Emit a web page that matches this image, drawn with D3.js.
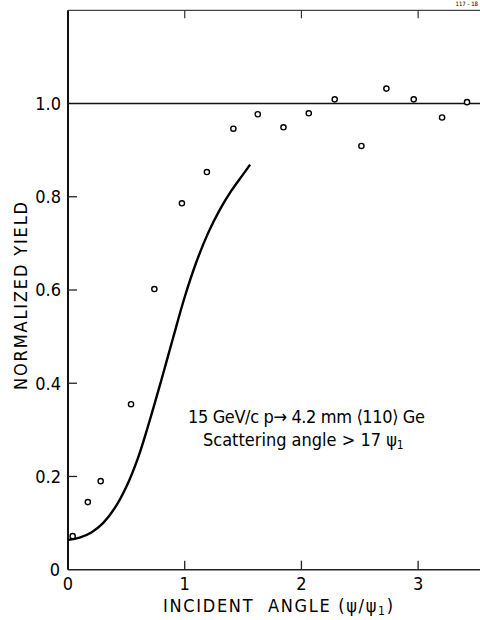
<!DOCTYPE html>
<html>
<head>
<meta charset="UTF-8">
<title>Normalized yield vs incident angle</title>
<style>
  body { margin: 0; background: #fff; }
  svg { display: block; }
  text { font-family: "Liberation Sans Narrow", "DejaVu Sans Condensed", "Liberation Sans", sans-serif; fill: #000; }
</style>
</head>
<body>
<script src="https://cdn.jsdelivr.net/npm/d3@7/dist/d3.min.js"></script>
<script>
// measured points (open circles)
var pointX = [0.04, 0.17, 0.28, 0.54, 0.74, 0.976, 1.19, 1.417, 1.626, 1.846, 2.063, 2.285, 2.514, 2.728, 2.962, 3.205, 3.419];
var pointY = [0.072, 0.145, 0.19, 0.355, 0.602, 0.786, 0.853, 0.946, 0.977, 0.949, 0.979, 1.009, 0.909, 1.032, 1.009, 0.970, 1.003];

// calculated curve (solid line)
var curveX = [0, 0.1, 0.2, 0.3, 0.4, 0.5, 0.6, 0.7, 0.8, 0.9, 1.0, 1.1, 1.2, 1.3, 1.4, 1.5, 1.56];
var curveY = [0.064, 0.069, 0.08, 0.1, 0.132, 0.178, 0.24, 0.32, 0.407, 0.497, 0.585, 0.66, 0.722, 0.772, 0.813, 0.848, 0.869];

var xTicks = [0, 1, 2, 3];
var yTicks = [0, 0.2, 0.4, 0.6, 0.8, 1.0];
var yTickLabels = ['0', '0.2', '0.4', '0.6', '0.8', '1.0'];

var W = 480, H = 620;
var x = d3.scaleLinear().domain([0, 3.53]).range([68, 480]);
var y = d3.scaleLinear().domain([0, 1.2]).range([569.7, 10.3]);

var svg = d3.select('body').append('svg')
    .attr('width', W)
    .attr('height', H);

// frame: left, bottom, top
svg.append('line')
    .attr('x1', x(0)).attr('x2', x(0))
    .attr('y1', y(1.2)).attr('y2', y(0))
    .attr('stroke', '#111').attr('stroke-width', 2);
svg.append('line')
    .attr('x1', x(0)).attr('x2', W)
    .attr('y1', y(0)).attr('y2', y(0))
    .attr('stroke', '#222').attr('stroke-width', 1.5);
svg.append('line')
    .attr('x1', x(0)).attr('x2', W)
    .attr('y1', y(1.2)).attr('y2', y(1.2))
    .attr('stroke', '#444').attr('stroke-width', 1.3);

// ticks pointing inward
var xIn = xTicks.filter(function (d) { return d > 0; });
svg.selectAll('.xtick-b').data(xIn).enter().append('line')
    .attr('x1', function (d) { return x(d); }).attr('x2', function (d) { return x(d); })
    .attr('y1', y(0)).attr('y2', y(0) - 9)
    .attr('stroke', '#222').attr('stroke-width', 1.3);
svg.selectAll('.xtick-t').data(xIn).enter().append('line')
    .attr('x1', function (d) { return x(d); }).attr('x2', function (d) { return x(d); })
    .attr('y1', y(1.2)).attr('y2', y(1.2) + 8)
    .attr('stroke', '#333').attr('stroke-width', 1.2);
svg.selectAll('.ytick').data(yTicks.slice(1, 5)).enter().append('line')
    .attr('x1', x(0)).attr('x2', x(0) + 9)
    .attr('y1', function (d) { return y(d); }).attr('y2', function (d) { return y(d); })
    .attr('stroke', '#222').attr('stroke-width', 1.3);

// unity line
svg.append('line')
    .attr('x1', x(0)).attr('x2', W)
    .attr('y1', y(1.0)).attr('y2', y(1.0))
    .attr('stroke', '#111').attr('stroke-width', 1.5);

// tick labels
svg.selectAll('.ylab').data(yTicks).enter().append('text')
    .attr('x', function (d) { return d === 0 ? 60 : 61; })
    .attr('y', function (d) { return y(d); })
    .attr('dy', '0.36em')
    .attr('text-anchor', 'end')
    .style('font-size', '18px')
    .text(function (d, i) { return yTickLabels[i]; });

svg.selectAll('.xlab').data(xTicks).enter().append('text')
    .attr('x', function (d) { return x(d); })
    .attr('y', 590)
    .attr('text-anchor', 'middle')
    .style('font-size', '18px')
    .text(function (d) { return d; });

// axis titles
var xt = svg.append('text')
    .attr('x', 163)
    .attr('y', 612)
    .attr('textLength', 230)
    .attr('lengthAdjust', 'spacing')
    .style('font-size', '18px');
xt.append('tspan').text('INCIDENT\u00a0\u00a0ANGLE (\u03c8/\u03c8');
xt.append('tspan').attr('baseline-shift', '-25%').style('font-size', '12px').text('1');
xt.append('tspan').text(')');

svg.append('text')
    .attr('transform', 'translate(27,390) rotate(-90)')
    .attr('textLength', 188)
    .attr('lengthAdjust', 'spacing')
    .style('font-size', '18px')
    .text('NORMALIZED  YIELD');

// curve
var line = d3.line()
    .x(function (d) { return x(d[0]); })
    .y(function (d) { return y(d[1]); })
    .curve(d3.curveCatmullRom);
svg.append('path')
    .datum(d3.zip(curveX, curveY))
    .attr('d', line)
    .attr('fill', 'none')
    .attr('stroke', '#000')
    .attr('stroke-width', 2.4);

// data points
svg.selectAll('.pt').data(d3.zip(pointX, pointY)).enter().append('circle')
    .attr('cx', function (d) { return x(d[0]); })
    .attr('cy', function (d) { return y(d[1]); })
    .attr('r', 2.6)
    .attr('fill', '#fff')
    .attr('stroke', '#000')
    .attr('stroke-width', 1.4);

// annotation
var note = svg.append('g').style('font-size', '18px');
note.append('text')
    .attr('x', 188).attr('y', 423)
    .attr('textLength', 237)
    .text('15 GeV/c  p\u2192 4.2 mm \u27e8110\u27e9 Ge');
var l2 = note.append('text')
    .attr('x', 203).attr('y', 446);
l2.append('tspan').text('Scattering angle > 17 \u03c8');
l2.append('tspan').attr('baseline-shift', '-25%').style('font-size', '12px').text('1');

// small corner id
svg.append('text')
    .attr('x', 478).attr('y', 6)
    .attr('text-anchor', 'end')
    .style('font-size', '6px')
    .text('117 - 18');
</script>
</body>
</html>
